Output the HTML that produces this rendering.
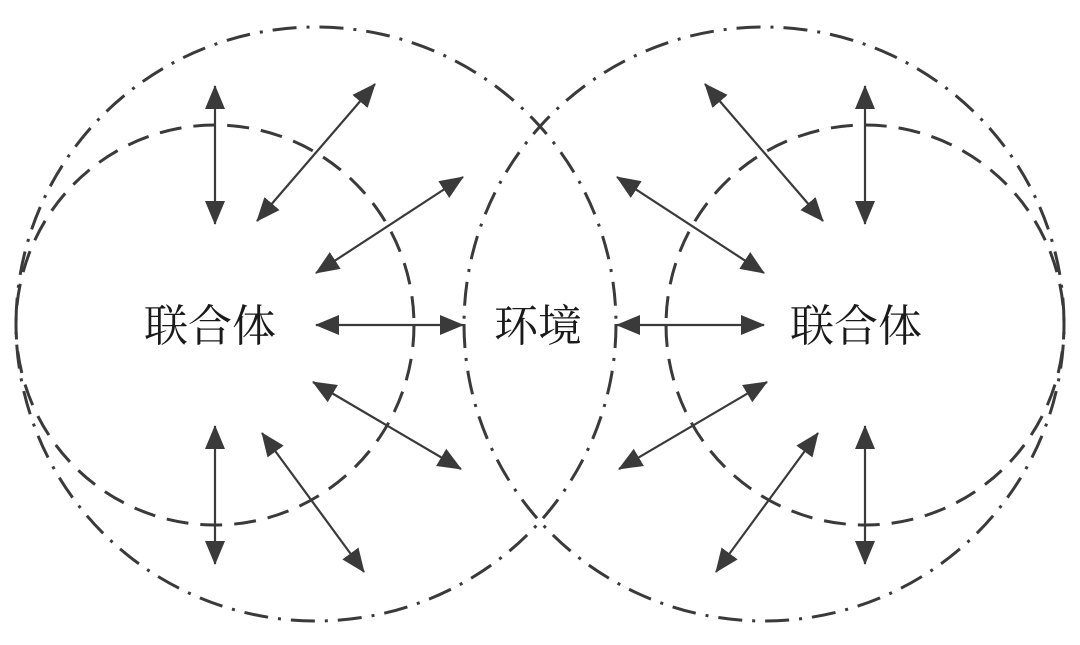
<!DOCTYPE html>
<html><head><meta charset="utf-8"><style>
html,body{margin:0;padding:0;background:#fff;}
svg{display:block}
text{font-family:"Liberation Serif","Noto Serif CJK SC",serif;font-size:44px;fill:#1a1a1a;}
</style></head><body>
<svg width="1080" height="645" viewBox="0 0 1080 645" xmlns="http://www.w3.org/2000/svg">
<defs>
<marker id="a" viewBox="0 0 24 20" refX="23" refY="10" markerWidth="24" markerHeight="20" markerUnits="userSpaceOnUse" orient="auto-start-reverse">
<path d="M0,0 L24,10 L0,20 Z" fill="#3a3a3a"/>
</marker>
<g id="side" stroke="#3a3a3a" fill="none">
<ellipse cx="316" cy="324" rx="300" ry="297" stroke-width="3" stroke-dasharray="24 10 3 10"/>
<ellipse cx="215" cy="325" rx="199" ry="200" stroke-width="3" stroke-dasharray="22 12"/>
<g stroke-width="2.2" marker-start="url(#a)" marker-end="url(#a)">
<line x1="215" y1="86" x2="215" y2="224"/>
<line x1="257" y1="221" x2="375" y2="84"/>
<line x1="316" y1="273" x2="463" y2="177"/>
<line x1="316" y1="325" x2="463" y2="325"/>
<line x1="313" y1="382" x2="461" y2="469"/>
<line x1="215" y1="426" x2="215" y2="564"/>
<line x1="262" y1="433" x2="364" y2="572"/>
</g>
</g>
</defs>
<use href="#side"/>
<use href="#side" transform="translate(1080,0) scale(-1,1)"/>
<text x="210" y="341" text-anchor="middle">联合体</text>
<text x="538" y="341" text-anchor="middle">环境</text>
<text x="856" y="341" text-anchor="middle">联合体</text>
</svg>
</body></html>
